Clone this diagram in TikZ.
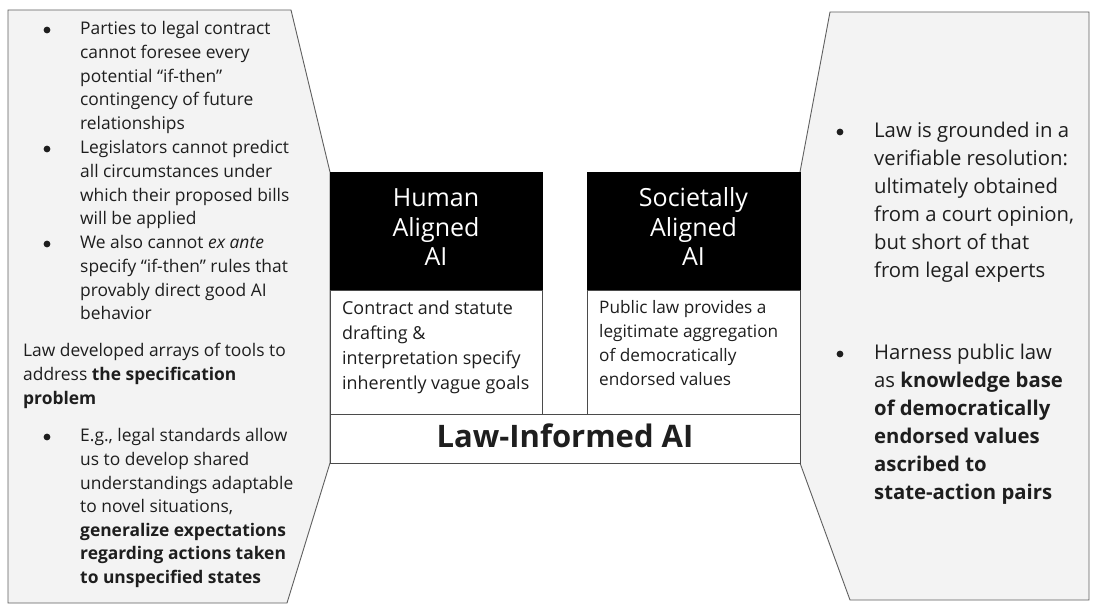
\documentclass[tikz,border=0pt]{standalone}
\usepackage{fontspec}
\setmainfont{Open Sans}
\definecolor{panel}{RGB}{243,243,243}
\definecolor{edge}{RGB}{95,95,95}
\definecolor{ink}{RGB}{30,30,30}
\begin{document}
\begin{tikzpicture}[x=1pt,y=-1pt,
  panelshape/.style={fill=panel,draw=edge,line width=0.9pt,line join=miter},
  blackbox/.style={fill=black,draw=black,line width=0.8pt},
  whitebox/.style={fill=white,draw=ink!80,line width=0.8pt},
  txt/.style={anchor=base west,inner sep=0pt,text=ink},
  bul/.style={circle,fill=ink,inner sep=0pt,minimum size=6.8pt},
  lfont/.style={font=\fontsize{17.4}{23.6}\selectfont},
  rfont/.style={font=\fontsize{20.3}{27.9}\selectfont},
  hfont/.style={font=\fontsize{25}{29.5}\selectfont,text=white,align=center,inner sep=0pt,anchor=base},
  mfont/.style={font=\fontsize{17.9}{24.8}\selectfont},
  pfont/.style={font=\fontsize{17.2}{24}\selectfont}
]
\useasboundingbox (0,0) rectangle (1096,609);
\fill[white] (0,0) rectangle (1096,609);

% side panels
\draw[panelshape] (8,10) -- (291,10) -- (330,172) -- (330,463) -- (287,603) -- (8,603) -- cycle;
\draw[panelshape] (830,12) -- (1089,12) -- (1089,600) -- (850,600) -- (800,463) -- (800,172) -- cycle;

% middle boxes
\node[blackbox,minimum width=212pt,minimum height=118pt,anchor=north west,inner sep=0pt] (hum) at (330,172) {};
\node[blackbox,minimum width=213pt,minimum height=118pt,anchor=north west,inner sep=0pt] (soc) at (587,172) {};
\node[whitebox,minimum width=212pt,minimum height=124pt,anchor=north west,inner sep=0pt] (humw) at (330,290) {};
\node[whitebox,minimum width=213pt,minimum height=124pt,anchor=north west,inner sep=0pt] (socw) at (587,290) {};
\node[whitebox,minimum width=470pt,minimum height=49pt,anchor=north west,inner sep=0pt] (law) at (330,414) {};

\node[hfont] (humt) at (436,266) {Human\\Aligned\\AI};
\node[hfont] (soct) at (693.5,266) {Societally\\Aligned\\AI};

\node[txt,mfont] (humd) at (342,315) {\parbox[t]{200pt}{Contract and statute\\drafting \&\\interpretation specify\\inherently vague goals}};
\node[txt,pfont] (socd) at (599,314) {\parbox[t]{200pt}{Public law provides a\\legitimate aggregation\\of democratically\\endorsed values}};

\node[inner sep=0pt,anchor=base,font=\fontsize{31}{33}\selectfont\bfseries,text=ink] (lawt) at (565,448) {Law-Informed AI};

% left panel text
\node[bul] (lb1) at (47,30) {};
\node[txt,lfont] (lt1) at (80,35) {\parbox[t]{250pt}{Parties to legal contract\\cannot foresee every\\potential “if-then”\\contingency of future\\relationships}};
\node[bul] (lb2) at (47,149) {};
\node[txt,lfont] (lt2) at (80,154) {\parbox[t]{250pt}{Legislators cannot predict\\all circumstances under\\which their proposed bills\\will be applied}};
\node[bul] (lb3) at (47,244) {};
\node[txt,lfont] (lt3) at (80,249) {\parbox[t]{250pt}{We also cannot \emph{ex ante}\\specify “if-then” rules that\\provably direct good AI\\behavior}};
\node[txt,lfont] (lt4) at (23,357) {\parbox[t]{300pt}{Law developed arrays of tools to\\address \textbf{the specification}\\\textbf{problem}}};
\node[bul] (lb5) at (47,437) {};
\node[txt,lfont] (lt5) at (80,442) {\parbox[t]{250pt}{E.g., legal standards allow\\us to develop shared\\understandings adaptable\\to novel situations,\\\textbf{generalize expectations}\\\textbf{regarding actions taken}\\\textbf{to unspecified states}}};

% right panel text
\node[bul] (rb1) at (840,132) {};
\node[txt,rfont] (rt1) at (874,138) {\parbox[t]{220pt}{Law is grounded in a\\verifiable resolution:\\ultimately obtained\\from a court opinion,\\but short of that\\from legal experts}};
\node[bul] (rb2) at (840,354) {};
\node[txt,rfont] (rt2) at (874,360) {\parbox[t]{220pt}{Harness public law\\as \textbf{knowledge base}\\\textbf{of democratically}\\\textbf{endorsed values}\\\textbf{ascribed to}\\\textbf{state-action pairs}}};
\end{tikzpicture}
\end{document}
